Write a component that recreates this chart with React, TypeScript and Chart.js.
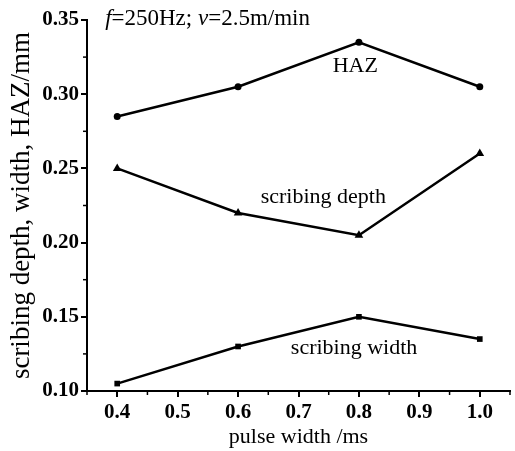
import React, { useEffect, useRef } from "react";
import { Chart, registerables } from "chart.js";

Chart.register(...registerables);

const pulseWidth = [0.4, 0.6, 0.8, 1.0];
const hazValues = [0.285, 0.305, 0.335, 0.305];
const depthValues = [0.25, 0.22, 0.205, 0.26];
const widthValues = [0.105, 0.13, 0.15, 0.135];

const xTicks = [0.4, 0.5, 0.6, 0.7, 0.8, 0.9, 1.0];
const xMinorTicks = [0.35, 0.45, 0.55, 0.65, 0.75, 0.85, 0.95, 1.05];
const yTicks = [0.1, 0.15, 0.2, 0.25, 0.3, 0.35];
const yMinorTicks = [0.125, 0.175, 0.225, 0.275, 0.325];

const xTitle = "pulse width /ms";
const yTitle = "scribing depth, width, HAZ/mm";

// annotation labels: [text, x, y] in data units
const seriesLabels: [string, number, number][] = [
  ["HAZ", 0.794, 0.319],
  ["scribing depth", 0.741, 0.2307],
  ["scribing width", 0.792, 0.129],
];
const conditionParts: [string, boolean][] = [
  ["f", true],
  ["=250Hz; ", false],
  ["v", true],
  ["=2.5m/min", false],
];
const conditionPos = [0.38, 0.351];

const FONT = "'Liberation Serif', 'Times New Roman', serif";

const annotationPlugin = {
  id: "annotations",
  afterDraw(chart: any) {
    const ctx = chart.ctx;
    const xs = chart.scales.x;
    const ys = chart.scales.y;
    ctx.save();
    ctx.strokeStyle = "#000";
    ctx.lineWidth = 1.5;
    xMinorTicks.forEach((v) => {
      const px = xs.getPixelForValue(v);
      ctx.beginPath();
      ctx.moveTo(px, ys.bottom);
      ctx.lineTo(px, ys.bottom + 4);
      ctx.stroke();
    });
    yMinorTicks.forEach((v) => {
      const py = ys.getPixelForValue(v);
      ctx.beginPath();
      ctx.moveTo(xs.left, py);
      ctx.lineTo(xs.left - 4, py);
      ctx.stroke();
    });
    ctx.fillStyle = "#000";
    ctx.textBaseline = "middle";
    ctx.textAlign = "center";
    ctx.font = `22px ${FONT}`;
    seriesLabels.forEach(([t, x, y]) => {
      ctx.fillText(t, xs.getPixelForValue(x), ys.getPixelForValue(y));
    });
    ctx.textAlign = "left";
    let cx = xs.getPixelForValue(conditionPos[0]);
    const cy = ys.getPixelForValue(conditionPos[1]);
    conditionParts.forEach(([t, it]) => {
      ctx.font = `${it ? "italic " : ""}23px ${FONT}`;
      ctx.fillText(t, cx, cy);
      cx += ctx.measureText(t).width;
    });
    ctx.restore();
  },
};

export default function App() {
  const ref = useRef<HTMLCanvasElement>(null);
  useEffect(() => {
    document.body.style.margin = "0";
    const mk = (data: number[], style: string, r: number) => ({
      data: pulseWidth.map((x, i) => ({ x, y: data[i] })),
      borderColor: "#000",
      backgroundColor: "#000",
      borderWidth: 2.5,
      pointStyle: style,
      pointRadius: r,
      pointBorderWidth: 0,
      showLine: true,
      tension: 0,
    });
    const chart = new Chart(ref.current!, {
      type: "scatter",
      data: {
        datasets: [
          mk(hazValues, "circle", 3.5),
          mk(depthValues, "triangle", 5),
          mk(widthValues, "rect", 4),
        ],
      },
      options: {
        animation: false,
        responsive: false,
        layout: { padding: { top: 20, right: 5, left: 0, bottom: 0 } },
        plugins: { legend: { display: false }, tooltip: { enabled: false } },
        scales: {
          x: {
            type: "linear",
            min: 0.35,
            max: 1.05,
            afterBuildTicks: (s: any) => {
              s.ticks = xTicks.map((v) => ({ value: v }));
            },
            afterFit: (s: any) => {
              s.height = 60;
            },
            grid: { drawOnChartArea: false, drawTicks: true, tickLength: 6, color: "#000", lineWidth: 2 },
            border: { display: true, color: "#000", width: 2 },
            ticks: {
              color: "#000",
              padding: 3,
              font: { family: FONT, size: 21, weight: "bold" },
              callback: (v: any) => Number(v).toFixed(1),
            },
            title: {
              display: true,
              text: xTitle,
              color: "#000",
              padding: { top: 0, bottom: 1 },
              font: { family: FONT, size: 22 },
            },
          },
          y: {
            type: "linear",
            min: 0.1,
            max: 0.35,
            afterBuildTicks: (s: any) => {
              s.ticks = yTicks.map((v) => ({ value: v }));
            },
            afterFit: (s: any) => {
              s.width = 87;
            },
            grid: { drawOnChartArea: false, drawTicks: true, tickLength: 6, color: "#000", lineWidth: 2 },
            border: { display: true, color: "#000", width: 2 },
            ticks: {
              color: "#000",
              padding: 2,
              font: { family: FONT, size: 21, weight: "bold" },
              callback: (v: any) => Number(v).toFixed(2),
            },
            title: {
              display: true,
              text: yTitle,
              color: "#000",
              padding: { top: 6, bottom: 0 },
              font: { family: FONT, size: 27 },
            },
          },
        },
      },
      plugins: [annotationPlugin],
    } as any);
    return () => chart.destroy();
  }, []);
  return (
    <div style={{ width: 515, height: 451 }}>
      <canvas ref={ref} width={515} height={451} />
    </div>
  );
}
